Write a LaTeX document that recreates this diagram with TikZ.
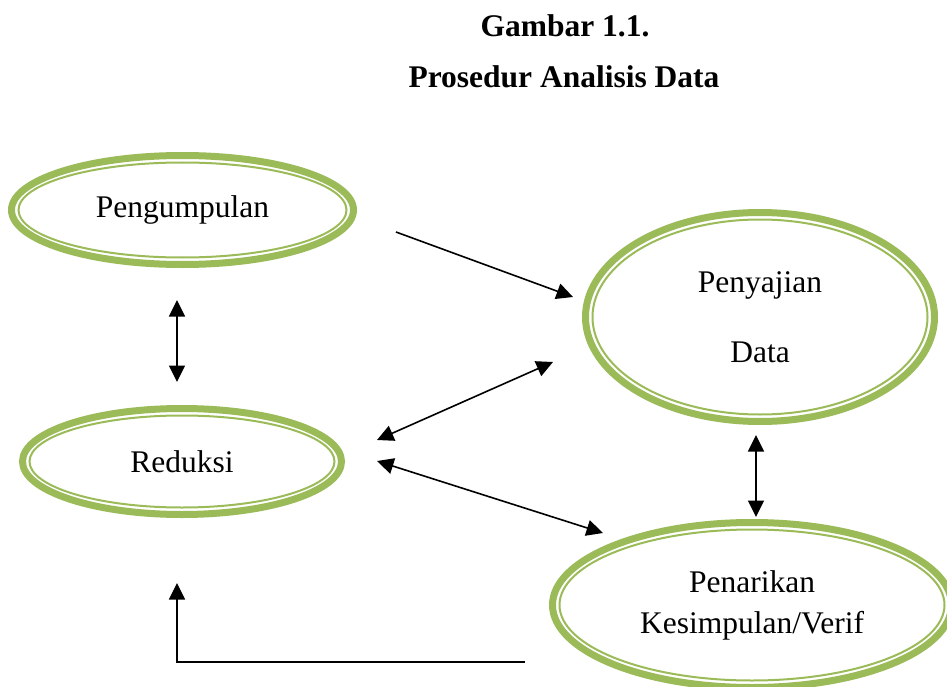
\documentclass[tikz,border=0pt]{standalone}
\usepackage{fontspec}
\setmainfont{Liberation Serif}
\usetikzlibrary{shapes.geometric,arrows.meta}
\definecolor{ogreen}{HTML}{9BBB59}
\tikzset{
  bub/.style={ellipse, draw=ogreen, line width=7pt, inner sep=0pt, outer sep=0pt,
    align=center, font=\fontsize{31.5}{41}\selectfont},
  ring/.style={draw=ogreen, line width=2pt},
  conn/.style={line width=1.6pt, -{Triangle[length=16.5pt,width=16pt]}},
  connb/.style={line width=1.6pt, {Triangle[length=16.5pt,width=16pt]}-{Triangle[length=16.5pt,width=16pt]}},
  ttl/.style={font=\fontsize{31.5}{38}\selectfont\bfseries, inner sep=0pt, anchor=base}
}
\begin{document}
\begin{tikzpicture}[x=1pt,y=-1pt]
  \useasboundingbox (0,0) rectangle (947,687);
  \clip (0,0) rectangle (947,687);

  % titles
  \node[ttl] (t1) at (565,37) {Gambar 1.1.};
  \node[ttl] (t2) at (564,88) {Prosedur Analisis Data};

  % ellipses
  \node[bub, minimum width=342pt, minimum height=109pt] (peng) at (182.5,210) {Pengumpulan};
  \draw[ring] (peng.center) ellipse [x radius=164pt, y radius=47.5pt];

  \node[bub, minimum width=319pt, minimum height=106pt] (red) at (182,461.5) {Reduksi};
  \draw[ring] (red.center) ellipse [x radius=152.5pt, y radius=46pt];

  \node[bub, minimum width=349pt, minimum height=209pt] (saji) at (760,317) {Penyajian\\[29pt]Data};
  \draw[ring] (saji.center) ellipse [x radius=167.5pt, y radius=97.5pt];

  \node[bub, minimum width=399pt, minimum height=165pt] (tarik) at (752,605) {Penarikan\\Kesimpulan/Verif};
  \draw[ring] (tarik.center) ellipse [x radius=192.5pt, y radius=75.5pt];

  % connector end points
  \coordinate (a1s) at (396,232);
  \coordinate (a1e) at (573,297);
  \coordinate (a2s) at (553,362);
  \coordinate (a2e) at (377,440);
  \coordinate (a3s) at (377,461);
  \coordinate (a3e) at (603,533);
  \coordinate (v1s) at (177,300);
  \coordinate (v1e) at (177,382);
  \coordinate (v2s) at (756,435);
  \coordinate (v2e) at (756,517);
  \coordinate (b1) at (525,662);
  \coordinate (b2) at (177,662);
  \coordinate (b3) at (177,583);

  % connectors
  \draw[conn] (a1s) -- (a1e);
  \draw[connb] (a2s) -- (a2e);
  \draw[connb] (a3s) -- (a3e);
  \draw[connb] (v1s) -- (v1e);
  \draw[connb] (v2s) -- (v2e);
  \draw[conn] (b1) -- (b2) -- (b3);
\end{tikzpicture}
\end{document}
